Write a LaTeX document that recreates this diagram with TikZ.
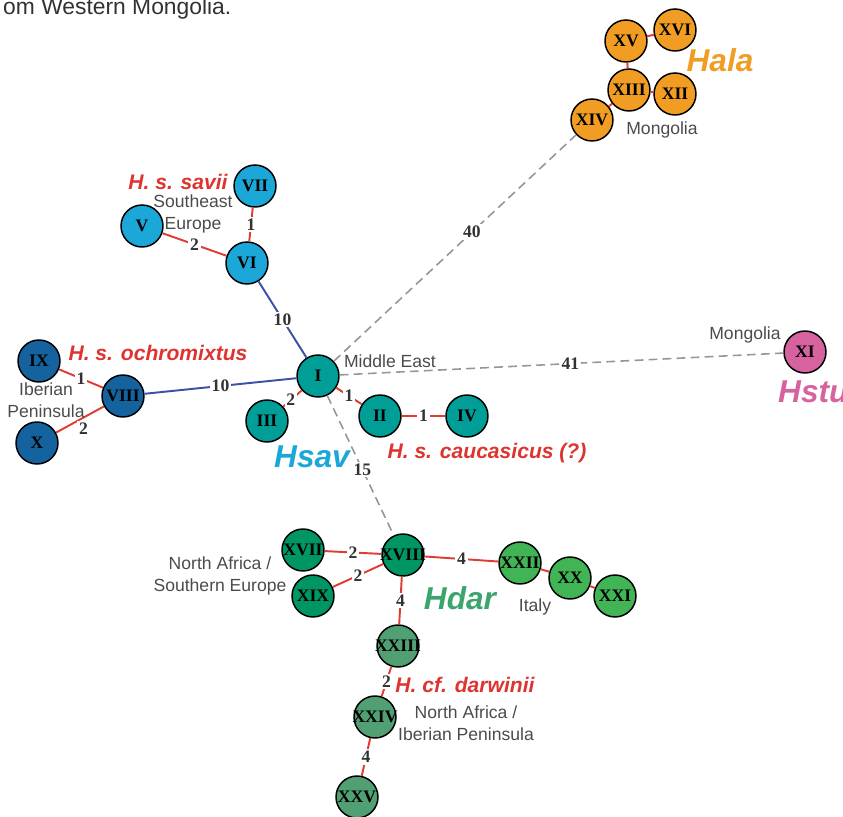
\documentclass[tikz,border=0pt]{standalone}
\usepackage{fontspec}
\setmainfont{Liberation Serif}
\setsansfont{Liberation Sans}
\usetikzlibrary{positioning, calc}

\definecolor{halaC}{RGB}{241,157,35}
\definecolor{savC}{RGB}{27,168,216}
\definecolor{ochC}{RGB}{20,98,158}
\definecolor{cauC}{RGB}{0,158,150}
\definecolor{stuC}{RGB}{214,98,160}
\definecolor{darA}{RGB}{0,150,100}
\definecolor{darB}{RGB}{65,180,85}
\definecolor{darC}{RGB}{80,160,115}
\definecolor{mutC}{RGB}{225,60,50}
\definecolor{linkC}{RGB}{60,80,165}
\definecolor{gapC}{RGB}{150,150,150}
\definecolor{taxC}{RGB}{222,52,48}
\definecolor{regC}{RGB}{75,75,75}
\definecolor{labC}{RGB}{50,50,50}
\definecolor{hdarC}{RGB}{60,165,110}

\begin{document}
\begin{tikzpicture}[x=0.02cm, y=-0.02cm,
    hap/.style={circle, draw=black, line width=0.85pt, minimum size=0.84cm, inner sep=0pt,
        font=\bfseries\fontsize{10}{10}\selectfont,
        execute at begin node={\hbox to 0pt\bgroup\hss}, execute at end node={\hss\egroup}},
    mut/.style={draw=mutC, line width=1.1pt},
    link/.style={draw=linkC, line width=1.1pt},
    gap/.style={draw=gapC, line width=0.9pt, dash pattern=on 5pt off 3pt},
    lab/.style={fill=white, inner sep=1pt, text=labC, font=\bfseries\fontsize{10}{10}\selectfont},
    region/.style={text=regC, font=\sffamily\fontsize{10}{12.5}\selectfont, align=center},
    taxon/.style={text=taxC, font=\sffamily\bfseries\itshape\fontsize{12}{14}\selectfont},
    group/.style={font=\sffamily\bfseries\itshape\fontsize{18}{18}\selectfont},
]
    \useasboundingbox (0,0) rectangle (843,817);
    \node[anchor=base west, text=labC, font=\sffamily\fontsize{13}{13}\selectfont] (cap) at (-3,15) {om Western Mongolia.};

    % Hala
    \node[hap, fill=halaC] (XVI) at (675, 30) {XVI};
    \node[hap, fill=halaC] (XV) at (626, 41) {XV};
    \node[hap, fill=halaC] (XIII) at (629, 90) {XIII};
    \node[hap, fill=halaC] (XII) at (675, 94) {XII};
    \node[hap, fill=halaC] (XIV) at (592, 120) {XIV};

    % Hsav
    \node[hap, fill=savC] (VII) at (255, 186) {VII};
    \node[hap, fill=savC] (V) at (142, 226) {V};
    \node[hap, fill=savC] (VI) at (247, 263) {VI};
    \node[hap, fill=cauC] (I) at (318, 376) {I};
    \node[hap, fill=ochC] (VIII) at (123, 396) {VIII};
    \node[hap, fill=ochC] (IX) at (39, 361) {IX};
    \node[hap, fill=ochC] (X) at (37, 443) {X};
    \node[hap, fill=cauC] (III) at (267, 421) {III};
    \node[hap, fill=cauC] (II) at (380, 416) {II};
    \node[hap, fill=cauC] (IV) at (467, 416) {IV};

    % Hstu
    \node[hap, fill=stuC] (XI) at (805, 352) {XI};

    % Hdar
    \node[hap, fill=darA] (XVII) at (303, 550) {XVII};
    \node[hap, fill=darA] (XVIII) at (403, 555) {XVIII};
    \node[hap, fill=darA] (XIX) at (313, 596) {XIX};
    \node[hap, fill=darB] (XXII) at (520, 563) {XXII};
    \node[hap, fill=darB] (XX) at (570, 578) {XX};
    \node[hap, fill=darB] (XXI) at (615, 596) {XXI};
    \node[hap, fill=darC] (XXIII) at (398, 646) {XXIII};
    \node[hap, fill=darC] (XXIV) at (375, 717) {XXIV};
    \node[hap, fill=darC] (XXV) at (357, 797) {XXV};

    \draw
        (XV) edge[mut] (XVI)
        (XV) edge[mut] (XIII)
        (XIII) edge[mut] (XII)
        (XIII) edge[mut] (XIV)
        (I) edge[gap] node[lab, pos=0.57]{40} (XIV)
        (I) edge[gap] node[lab, pos=0.52]{41} (XI)
        (I) edge[gap] node[lab, pos=0.53]{15} (XVIII)
        (VI) edge[link] node[lab]{10} (I)
        (VIII) edge[link] node[lab]{10} (I)
        (VII) edge[mut] node[lab]{1} (VI)
        (V) edge[mut] node[lab]{2} (VI)
        (IX) edge[mut] node[lab]{1} (VIII)
        (X) edge[mut] node[lab, pos=0.5, xshift=2pt, yshift=-5pt]{2} (VIII)
        (I) edge[mut] node[lab, pos=0.6]{2} (III)
        (I) edge[mut] node[lab]{1} (II)
        (II) edge[mut] node[lab]{1} (IV)
        (XVII) edge[mut] node[lab]{2} (XVIII)
        (XIX) edge[mut] node[lab]{2} (XVIII)
        (XVIII) edge[mut] node[lab]{4} (XXII)
        (XVIII) edge[mut] node[lab]{4} (XXIII)
        (XXII) edge[mut] (XX)
        (XX) edge[mut] (XXI)
        (XXIII) edge[mut] node[lab]{2} (XXIV)
        (XXIV) edge[mut] node[lab]{4} (XXV)
        ;

    % labels
    \node[group, text=halaC] (hala) at (720, 60) {Hala};
    \node[region] (mongA) at (662, 130) {Mongolia};
    \node[taxon] (savii) at (178, 182) {H. s. savii};
    \node[region] (seeur) at (193, 214) {Southeast\\Europe};
    \node[taxon] (ochro) at (158, 353) {H. s. ochromixtus};
    \node[region] (iber) at (46, 400) {Iberian\\Peninsula};
    \node[region] (mideast) at (390, 361) {Middle East};
    \node[region] (mongB) at (745, 335) {Mongolia};
    \node[group, text=stuC, anchor=west] (hstu) at (772, 392) {Hstu};
    \node[group, text=savC] (hsav) at (312, 457) {Hsav};
    \node[taxon] (cauc) at (487, 453) {H. s. caucasicus (?)};
    \node[region] (nafsou) at (220, 576) {North Africa /\\Southern Europe};
    \node[group, text=hdarC] (hdar) at (460, 598) {Hdar};
    \node[region] (italy) at (535, 607) {Italy};
    \node[taxon] (darw) at (465, 685) {H. cf. darwinii};
    \node[region] (nafibe) at (466, 723) {North Africa /\\Iberian Peninsula};
\end{tikzpicture}
\end{document}
